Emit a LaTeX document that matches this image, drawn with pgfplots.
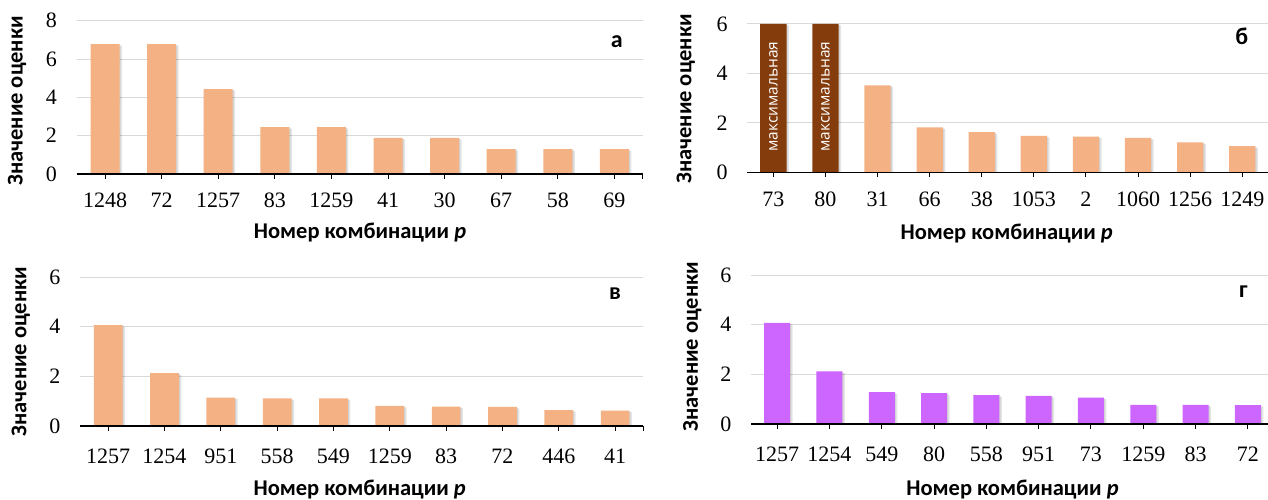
\documentclass[border=0pt]{standalone}
\usepackage{fontspec}
\setmainfont{Liberation Serif}
\newfontfamily\calb[BoldFont={Carlito Bold}]{Carlito}
\newfontfamily\opens{Open Sans}
\usepackage{pgfplots}
\pgfplotsset{compat=1.18}

\definecolor{peach}{HTML}{F4B183}
\definecolor{purp}{HTML}{CC66FF}
\definecolor{dbrown}{HTML}{843C0C}
\definecolor{gridc}{HTML}{D9D9D9}

\pgfplotstableread{
x y
0 6.78
1 6.78
2 4.43
3 2.45
4 2.45
5 1.88
6 1.88
7 1.30
8 1.30
9 1.30
}\dataA
\pgfplotstableread{
x y
0 6
1 6
}\dataBmax
\pgfplotstableread{
x y
2 3.52
3 1.82
4 1.63
5 1.47
6 1.44
7 1.39
8 1.21
9 1.06
}\dataB
\pgfplotstableread{
x y
0 4.06
1 2.13
2 1.14
3 1.11
4 1.11
5 0.81
6 0.78
7 0.77
8 0.64
9 0.62
}\dataV
\pgfplotstableread{
x y
0 4.07
1 2.12
2 1.28
3 1.24
4 1.16
5 1.13
6 1.06
7 0.77
8 0.77
9 0.76
}\dataG

\pgfplotsset{
  panel/.style={
    scale only axis,
    anchor=south west,
    xmin=-0.5, xmax=9.5, ymin=0,
    axis x line*=bottom,
    axis y line*=left,
    y axis line style={draw=none},
    x axis line style={black, line width=1.4pt},
    ytick style={draw=none},
    xtick={0,...,9},
    xtick align=outside,
    xtick style={black, line width=1pt},
    major tick length=5pt,
    extra x ticks={9.5},
    extra x tick labels={},
    extra x tick style={xtick align=outside, major tick length=5pt},
    ymajorgrids,
    major grid style={gridc, line width=1pt},
    /pgf/number format/assume math mode=true,
    ticklabel style={font=\fontsize{22}{26}\selectfont},
    yticklabel style={anchor=east, inner sep=0pt, xshift=-19.5pt},
    clip=true,
  },
  shbar/.style={ybar, bar shift=0pt, draw=none,
    preaction={fill=black, opacity=0.10, transform canvas={xshift=2.5pt, yshift=-1.5pt}},
    preaction={fill=black, opacity=0.08, transform canvas={xshift=1.2pt, yshift=-0.7pt}}},
  baseline/.style={black, line width=1.4pt},
}
\tikzset{
  ylab/.style={rotate=90, font=\calb\bfseries\fontsize{22.5}{26}\selectfont},
  xlab/.style={font=\calb\bfseries\fontsize{22.5}{26}\selectfont},
  plab/.style={font=\calb\bfseries\fontsize{24}{28}\selectfont},
}

\begin{document}
\begin{tikzpicture}[x=1pt,y=1pt]
\useasboundingbox (0,0) rectangle (1268,500);

% ---------- panel a ----------
\begin{axis}[panel, at={(76.7pt,326pt)}, width=566pt, height=153.3pt,
  ymax=8, ytick={0,2,4,6,8},
  xticklabels={1248,72,1257,83,1259,41,30,67,58,69},
  xticklabel style={anchor=center, yshift=-21pt}]
\addplot[shbar, bar width=29pt, fill=peach] table[x=x,y=y]{\dataA};
\draw[black, line width=1.4pt] (axis cs:-0.5,0) -- (axis cs:9.5,0);
\end{axis}
\node[ylab] at (17,399) {Значение оценки};
\node[xlab] at (360,267) {Номер комбинации \textit{p}};
\node[plab] at (616.7,458.3) {а};

% ---------- panel b ----------
\begin{axis}[panel, at={(747.3pt,327.7pt)}, width=521pt, height=148.3pt,
  ymax=6, ytick={0,2,4,6},
  xticklabels={73,80,31,66,38,1053,2,1060,1256,1249},
  xticklabel style={anchor=center, yshift=-22pt}]
\addplot[shbar, bar width=26.3pt, fill=dbrown] table[x=x,y=y]{\dataBmax};
\addplot[shbar, bar width=26.3pt, fill=peach] table[x=x,y=y]{\dataB};
\draw[black, line width=1.4pt] (axis cs:-0.5,0) -- (axis cs:9.5,0);
\node[rotate=90, white, font=\opens\fontsize{15.5}{18}\selectfont] at (axis cs:0,3.06) {максимальная};
\node[rotate=90, white, font=\opens\fontsize{15.5}{18}\selectfont] at (axis cs:1,3.06) {максимальная};
\end{axis}
\node[ylab] at (685.7,401) {Значение оценки};
\node[xlab] at (1006.7,266.7) {Номер комбинации \textit{p}};
\node[plab] at (1241.7,464) {б};

% ---------- panel v ----------
\begin{axis}[panel, at={(80pt,74pt)}, width=563.3pt, height=149pt,
  ymax=6, ytick={0,2,4,6},
  xticklabels={1257,1254,951,558,549,1259,83,72,446,41},
  xticklabel style={anchor=center, yshift=-25pt}]
\addplot[shbar, bar width=28.7pt, fill=peach] table[x=x,y=y]{\dataV};
\draw[black, line width=1.4pt] (axis cs:-0.5,0) -- (axis cs:9.5,0);
\end{axis}
\node[ylab] at (20.7,148.3) {Значение оценки};
\node[xlab] at (359.7,10) {Номер комбинации \textit{p}};
\node[plab] at (615,206) {в};

% ---------- panel g ----------
\begin{axis}[panel, at={(751pt,76pt)}, width=523pt, height=149pt,
  ymax=6, ytick={0,2,4,6},
  xticklabels={1257,1254,549,80,558,951,73,1259,83,72},
  xticklabel style={anchor=center, yshift=-25pt}]
\addplot[shbar, bar width=26pt, fill=purp] table[x=x,y=y]{\dataG};
\draw[black, line width=1.4pt] (axis cs:-0.5,0) -- (axis cs:9.5,0);
\end{axis}
\node[ylab] at (692.3,153.3) {Значение оценки};
\node[xlab] at (1012.5,10.7) {Номер комбинации \textit{p}};
\node[plab] at (1243.3,208.3) {г};
\end{tikzpicture}
\end{document}
